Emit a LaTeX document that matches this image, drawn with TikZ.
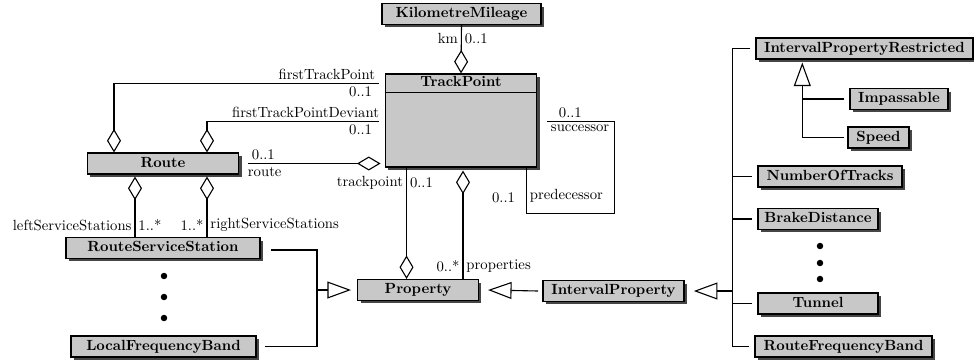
\documentclass[tikz,border=0pt]{standalone}
\usepackage{color}
\definecolor{myboxgray}{RGB}{200,200,200}
\definecolor{myshadow}{RGB}{70,70,70}
\usepackage{tikz}
\usetikzlibrary{calc,arrows.meta,shadows,positioning}
\tikzstyle{classbox}=[draw,line width=1pt,fill=myboxgray,rectangle,minimum height=14pt,inner sep=0pt,font=\bfseries,text height=6.9pt,text depth=1.9pt,drop shadow={shadow xshift=2pt,shadow yshift=-2pt,fill=myshadow,opacity=1}]
\tikzstyle{role}=[inner sep=2pt]
\tikzstyle{agg}=[-{Diamond[open,length=16pt,width=9.5pt]}]
\tikzstyle{aggstart}=[{Diamond[open,length=16pt,width=9.5pt]}-]
\tikzstyle{gen}=[-{Triangle[open,length=16pt,width=11.5pt]}]

\begin{document}
\begin{tikzpicture}[x=0.68pt,y=-0.68pt,line width=0.75pt]
\useasboundingbox (0,0) rectangle (974,363);

% classes
\node [classbox,minimum width=108pt] (km) at (461.5,14) {KilometreMileage};
\node [classbox,minimum width=103pt,minimum height=63pt] (tp) at (461,120.5) {};
\node [font=\bfseries,text height=6.9pt,text depth=1.9pt] (tpname) at ($(tp.north)+(0,9.5)$) {TrackPoint};
\draw [line width=1pt] ($(tp.north west)+(0,19)$) -- ($(tp.north east)+(0,19)$);
\node [classbox,minimum width=103pt] (route) at (163,163.5) {Route};
\node [classbox,minimum width=132pt] (rss) at (163,248) {RouteServiceStation};
\node [classbox,minimum width=126pt] (lfb) at (163.5,346.5) {LocalFrequencyBand};
\node [classbox,minimum width=82pt] (prop) at (418,290) {Property};
\node [classbox,minimum width=96pt] (ip) at (613.5,291) {IntervalProperty};
\node [classbox,minimum width=147.5pt] (ipr) at (864.5,48.5) {IntervalPropertyRestricted};
\node [classbox,minimum width=66.5pt] (imp) at (899,99) {Impassable};
\node [classbox,minimum width=41.5pt] (spd) at (878.5,137.5) {Speed};
\node [classbox,minimum width=98pt] (not) at (830,176.5) {NumberOfTracks};
\node [classbox,minimum width=81.5pt] (bd) at (818,219) {BrakeDistance};
\node [classbox,minimum width=81.5pt] (tun) at (818,303.5) {Tunnel};
\node [classbox,minimum width=120.5pt] (rfb) at (843.5,346.5) {RouteFrequencyBand};

% dots
\foreach \y in {276,297,318} \fill (164,\y) circle (2.2pt);
\foreach \y in {246,263,279} \fill (820,\y) circle (2.2pt);

% aggregations
\draw [agg] (km.south) -- (tp.north)
  node [role,pos=0.28,left] (lkm) {km}
  node [role,pos=0.28,right] (lkmm) {0..1};

\coordinate (ftp) at ($(tp.north west)+(-6,10)$);
\draw [agg] (ftp) -| ($(route.north)+(-49,0)$);
\node [role,anchor=south east] (lftp) at (ftp) {firstTrackPoint};
\node [role,anchor=north east] (lftpm) at ($(ftp)+(-3,0)$) {0..1};

\coordinate (ftpd) at ($(tp.north west)+(-6,48)$);
\draw [agg] (ftpd) -| ($(route.north)+(44,0)$);
\node [role,anchor=south east] (lftpd) at ($(ftpd)+(4,0)$) {firstTrackPointDeviant};
\node [role,anchor=north east] (lftpdm) at ($(ftpd)+(-3,0)$) {0..1};

\coordinate (rt) at ($(route.east)+(9,0)$);
\draw [agg] (rt) -- ($(tp.west |- rt)+(-4,0)$);
\node [role,anchor=south west] (lrtm) at (rt) {0..1};
\node [role,anchor=north west] (lrt) at ($(rt)+(-4,0)$) {route};

\coordinate (tpa) at ($(tp.south west)+(22,0)$);
\draw [agg] (tpa) -- (tpa |- prop.north);
\node [role,anchor=east] (ltpa) at ($(tpa)+(0,15)$) {trackpoint};
\node [role,anchor=west] (ltpam) at ($(tpa)+(0,15)$) {0..1};

\coordinate (tpb) at ($(tp.south)+(2,3)$);
\draw [aggstart] (tpb) -- (tpb |- prop.north);
\node [role,anchor=east] (ltpbm) at ($(tpb |- prop.north)+(0,-13)$) {0..*};
\node [role,anchor=west] (ltpb) at ($(tpb |- prop.north)+(0,-13)$) {properties};

\coordinate (succ) at ($(tp.north east)+(10,48)$);
\coordinate (pred) at ($(tp.south east)+(-11,0)$);
\draw (succ) -- ++(67,0) |- ($(pred)+(0,46)$) -- (pred);
\node [role,anchor=south west] (lsuccm) at ($(succ)+(8,0)$) {0..1};
\node [role,anchor=north west] (lsucc) at (succ) {successor};
\node [role,anchor=west] (lpred) at ($(pred)+(0,28)$) {predecessor};
\node [role,anchor=east] (lpredm) at ($(pred)+(-8,30)$) {0..1};

\coordinate (rl) at ($(route.south)+(-28,2)$);
\coordinate (rr) at ($(route.south)+(44,2)$);
\draw [aggstart] (rl) -- (rl |- rss.north);
\draw [aggstart] (rr) -- (rr |- rss.north);
\node [role,anchor=east] (lrl) at ($(rl |- rss.north)+(0,-12)$) {leftServiceStations};
\node [role,anchor=west] (lrlm) at ($(rl |- rss.north)+(0,-12)$) {1..*};
\node [role,anchor=east] (lrrm) at ($(rr |- rss.north)+(0,-12)$) {1..*};
\node [role,anchor=west] (lrr) at ($(rr |- rss.north)+(0,-12)$) {rightServiceStations};

% generalizations
\coordinate (g1) at ($(prop.west)+(-40,0)$);
\draw ($(rss.east)+(10,2)$) -| (g1);
\draw ($(lfb.east)+(8,0)$) -| (g1);
\draw [gen] (g1) -- ($(prop.west)+(-6,0)$);

\draw [gen] ($(ip.west)+(-4,0)$) -- ($(prop.east)+(9,0)$);

\coordinate (g2) at ($(ip.east)+(48,0)$);
\draw [gen] (g2) -- ($(ip.east)+(9,0)$);
\foreach \n in {ipr,not,bd,tun,rfb}
  \draw ($(\n.west)+(-5,0)$) -| (g2);

\coordinate (g3) at ($(ipr.south west)+(47,29)$);
\draw [gen] (g3) -- ($(g3 |- ipr.south)+(0,3)$);
\draw ($(imp.west)+(-5,0)$) -| (g3);
\draw ($(spd.west)+(-3,0)$) -| (g3);
\end{tikzpicture}
\end{document}
